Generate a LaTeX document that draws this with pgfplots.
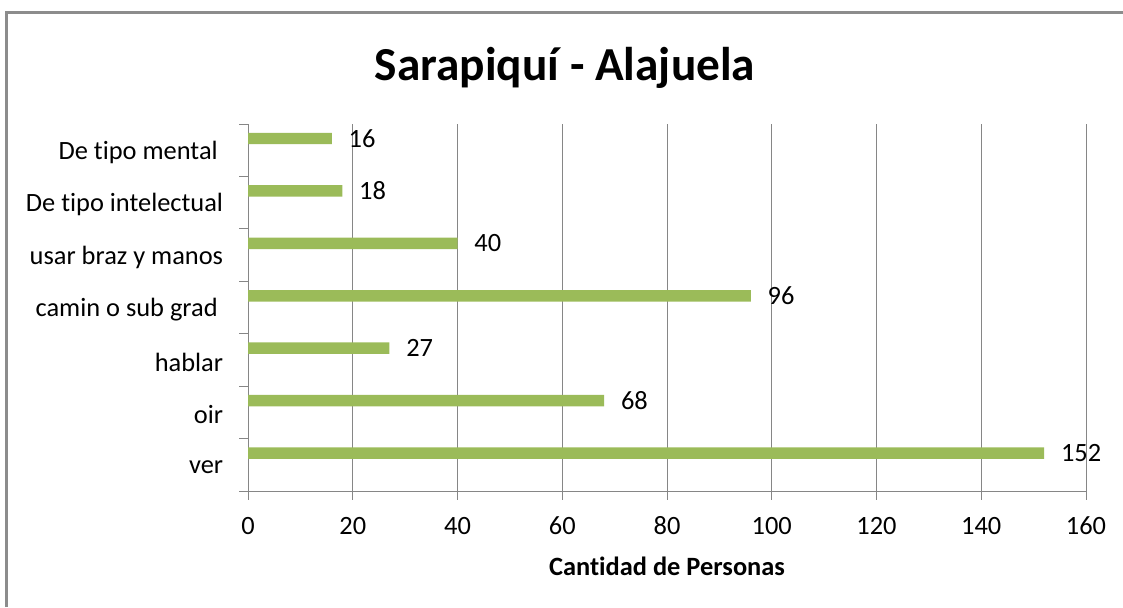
\documentclass[border=0pt]{standalone}
\usepackage{pgfplots}
\pgfplotsset{compat=1.18}
\usepackage{fontspec}
\setmainfont[RawFeature={-liga;-clig;-dlig}]{Carlito}
\definecolor{barg}{HTML}{9BBB59}
\definecolor{gridg}{HTML}{868686}
\definecolor{frameg}{HTML}{8C8C8C}
\begin{document}
\begin{tikzpicture}
\useasboundingbox (0,0) rectangle (842.25pt,455.25pt);
\draw[frameg, line width=2.25pt] (4.9pt,0) -- (4.9pt,445.9pt) -- (842.25pt,445.9pt);
\node[anchor=base, inner sep=0pt, font=\fontsize{35.5}{42}\selectfont\bfseries] at (423.75pt,395pt) {Sarapiquí - Alajuela};
\begin{axis}[
  at={(186pt,87pt)}, anchor=south west,
  width=628.5pt, height=275.25pt, scale only axis,
  xbar, bar width=8.6pt, bar shift=8.8pt,
  xmin=0, xmax=160, ymin=-0.5, ymax=6.5,
  xtick={0,20,...,160},
  ytick={-0.5,0.5,...,6.5},
  y tick label as interval,
  yticklabels={ver,oir,hablar,{camin o sub grad\kern4pt},usar braz y manos,De tipo intelectual,{De tipo mental\kern4pt}},
  axis x line*=bottom, axis y line*=left,
  axis line style={gridg, line width=0.75pt, -},
  xmajorgrids, major grid style={gridg, line width=0.75pt},
  tick align=outside,
  major tick length=6.5pt,
  every tick/.style={gridg, line width=0.75pt},
  /pgf/number format/assume math mode=true,
  tick label style={font=\fontsize{19.8}{24}\selectfont, text=black, inner sep=0pt},
  xticklabel style={anchor=north, yshift=-12.75pt},
  yticklabel style={anchor=east, xshift=-12pt, yshift=-1.5pt},
  every axis x label/.style={at={(axis description cs:0.5,0)}, anchor=base, yshift=-63pt, font=\fontsize{19.8}{24}\selectfont\bfseries},
  xlabel={Cantidad de Personas},
  nodes near coords,
  nodes near coords style={anchor=west, xshift=12.5pt, inner sep=0pt, font=\fontsize{19.8}{24}\selectfont, text=black},
]
\addplot[fill=barg, draw=none] coordinates {(152,0) (68,1) (27,2) (96,3) (40,4) (18,5) (16,6)};
\end{axis}
\end{tikzpicture}
\end{document}
